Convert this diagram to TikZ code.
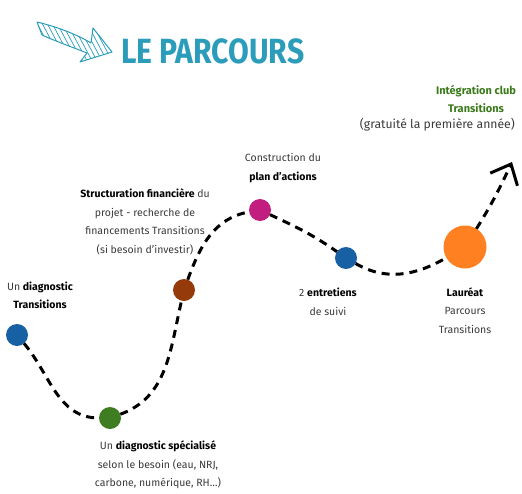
\documentclass[tikz,border=0pt]{standalone}
\usepackage{fontspec}
\setmainfont{Fira Sans}
\newfontfamily\titlefont[FakeStretch=0.86]{Fira Sans}
\usetikzlibrary{arrows.meta,positioning}
\definecolor{teal1}{HTML}{2B9CB9}
\definecolor{dblue}{HTML}{1660A3}
\definecolor{dgreen}{HTML}{3E7D22}
\definecolor{dbrown}{HTML}{953A0A}
\definecolor{dmagenta}{HTML}{C21E80}
\definecolor{dorange}{HTML}{FF8020}
\definecolor{tgreen}{HTML}{3A7A1A}
\definecolor{txtgray}{HTML}{3A3A3A}
\newcommand{\gras}[1]{\textcolor{black}{\textbf{#1}}}
\tikzset{
  stepdot/.style={circle, fill=#1, minimum size=22pt, inner sep=0pt, outer sep=0pt},
  lbl/.style={align=center, font=\fontsize{10.5}{18.5}\selectfont, text=txtgray, inner sep=0pt},
  route/.style={line width=3pt, dash pattern=on 8pt off 6pt},
  hatch/.style={teal1, line width=0.7pt}
}

\begin{document}
\begin{tikzpicture}[x=1pt,y=1pt]
\useasboundingbox (0,0) rectangle (522,-493);

% title arrow and title
\draw[teal1, line width=1pt, line join=round] (37,-22) .. controls (58,-27) and (78,-35) .. (91,-43) -- (93,-28) -- (112,-52) -- (80,-62) -- (87,-53) .. controls (72,-47) and (55,-41) .. (42,-35) -- cycle;
\begin{scope}
  \clip (37,-22) .. controls (58,-27) and (78,-35) .. (91,-43) -- (93,-28) -- (112,-52) -- (80,-62) -- (87,-53) .. controls (72,-47) and (55,-41) .. (42,-35) -- cycle;
  \foreach \i in {0,...,25} \draw[hatch] (5*\i,-10) -- ++(-62:70);
\end{scope}
\node[anchor=base west, inner sep=0pt, text=teal1, font=\titlefont\bfseries\fontsize{35}{35}\selectfont] (title) at (121,-63) {LE PARCOURS};

% steps
\node[stepdot=dblue] (d1) at (17,-335) {};
\node[stepdot=dgreen] (d2) at (110,-418) {};
\node[stepdot=dbrown] (d3) at (184,-290) {};
\node[stepdot=dmagenta] (d4) at (260,-210) {};
\node[stepdot=dblue] (d5) at (346,-258) {};
\node[stepdot=dorange, minimum size=43pt] (d6) at (465,-247) {};
\coordinate (fin) at (512,-162);

\draw[route] (d1) to[out=-50,in=180] (d2);
\draw[route] (d2) to[out=20,in=257] (d3);
\draw[route] (d3) to[out=70,in=190] (d4);
\draw[route] (d4) to[out=-25,in=145] (d5);
\draw[route] (d5) to[out=-30,in=210] (d6);
\draw[route, -{Straight Barb[length=17pt,width=30pt]}] (d6) to[out=58,in=245] (fin);

% labels
\node[lbl, above=15pt of d1, xshift=23pt] (l1) {Un \gras{diagnostic}\\\gras{Transitions}};
\node[lbl, below=12pt of d2, xshift=48pt] (l2) {Un \gras{diagnostic spécialisé}\\selon le besoin (eau, NRJ,\\carbone, numérique, RH…)};
\node[lbl, above=24pt of d3, xshift=-39pt] (l3) {\gras{Structuration financière} du\\projet - recherche de\\financements Transitions\\(si besoin d’investir)};
\node[lbl, above=16pt of d4, xshift=23pt] (l4) {Construction du\\\gras{plan d’actions}};
\node[lbl, below=19pt of d5, xshift=-18pt] (l5) {2 \gras{entretiens}\\de suivi};
\node[lbl, below=19pt of d6] (l6) {\gras{Lauréat}\\Parcours\\Transitions};
\node[lbl, text=tgreen, font=\bfseries\fontsize{11}{18}\selectfont] (club) at (476,-99) {Intégration club\\Transitions};
\node[lbl, anchor=base east, font=\fontsize{12.2}{14}\selectfont] (free) at (515,-128) {(gratuité la première année)};
\end{tikzpicture}
\end{document}
